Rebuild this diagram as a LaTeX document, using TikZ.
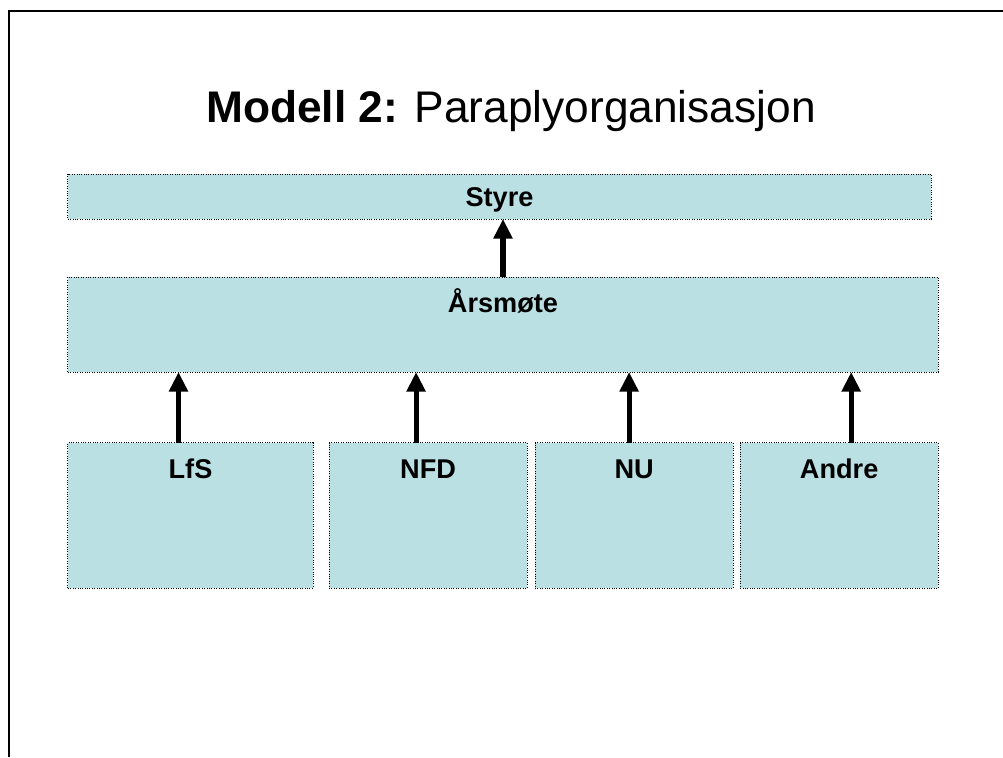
\documentclass[tikz,border=0pt]{standalone}
\usepackage{fontspec}
\setmainfont{Liberation Sans}
\usepackage{tikz}
\usetikzlibrary{arrows.meta, positioning, calc}

\definecolor{boxfill}{RGB}{187,224,227}

\begin{document}
\begin{tikzpicture}[
		x=0.025cm, y=-0.025cm,
		box/.style={
			draw,
			densely dotted,
			line width=0.7pt,
			fill=boxfill,
			rectangle,
			inner sep=0pt,
			outer sep=0pt,
			minimum height=3.625cm
		},
		smallbox/.style={
			box,
			minimum width=4.95cm
		},
		lbl/.style={
			anchor=base,
			yshift=-25pt,
			font=\fontsize{19.3}{23}\selectfont\bfseries
		},
		arrow/.style={-{Triangle[length=14pt,width=13pt]}, line width=3.6pt}
		]
		
		\useasboundingbox (0,0) rectangle (1003,757);
		
		% ---- Frame ----
		\draw[line width=1.5pt] (9,757) -- (9,11) -- (1003,11);
		
		% ---- Title ----
		\node[anchor=base, font=\fontsize{31.5}{38}\selectfont] (title) at (511,122)
		{\textbf{Modell 2:} Paraplyorganisasjon};
		
		% ---- Top ----
		\node[box, minimum width=21.575cm, minimum height=1.125cm,
		label={[lbl, yshift=2.2pt]north:Styre}] (styre) at (499.5,196.5) {};
		
		\node[box, minimum width=21.75cm, minimum height=2.375cm,
		label={[lbl]north:Årsmøte}] (aarsmote) at (503,324.5) {};
		
		% ---- Members ----
		\node[box, minimum width=6.125cm, label={[lbl]north:LfS}] (lfs) at (190.5,515.5) {};
		
		\node[smallbox, right=0.4cm of lfs, label={[lbl]north:NFD}] (nfd) {};
		
		\node[smallbox, right=0.2cm of nfd, label={[lbl]north:NU}] (nu) {};
		
		\node[smallbox, right=0.175cm of nu, label={[lbl]north:Andre}] (andre) {};
		
		% ---- Arrows ----
		\draw[arrow] (aarsmote.north) -- (aarsmote.north |- styre.south);
		
		\draw[arrow] ($(lfs.north)+(-12,0)$) -- ($(lfs.north |- aarsmote.south)+(-12,0)$);
		\draw[arrow] ($(nfd.north)+(-12,0)$) -- ($(nfd.north |- aarsmote.south)+(-12,0)$);
		\draw[arrow] ($(nu.north)+(-5,0)$) -- ($(nu.north |- aarsmote.south)+(-5,0)$);
		\draw[arrow] ($(andre.north)+(12,0)$) -- ($(andre.north |- aarsmote.south)+(12,0)$);
		
	\end{tikzpicture}
\end{document}
